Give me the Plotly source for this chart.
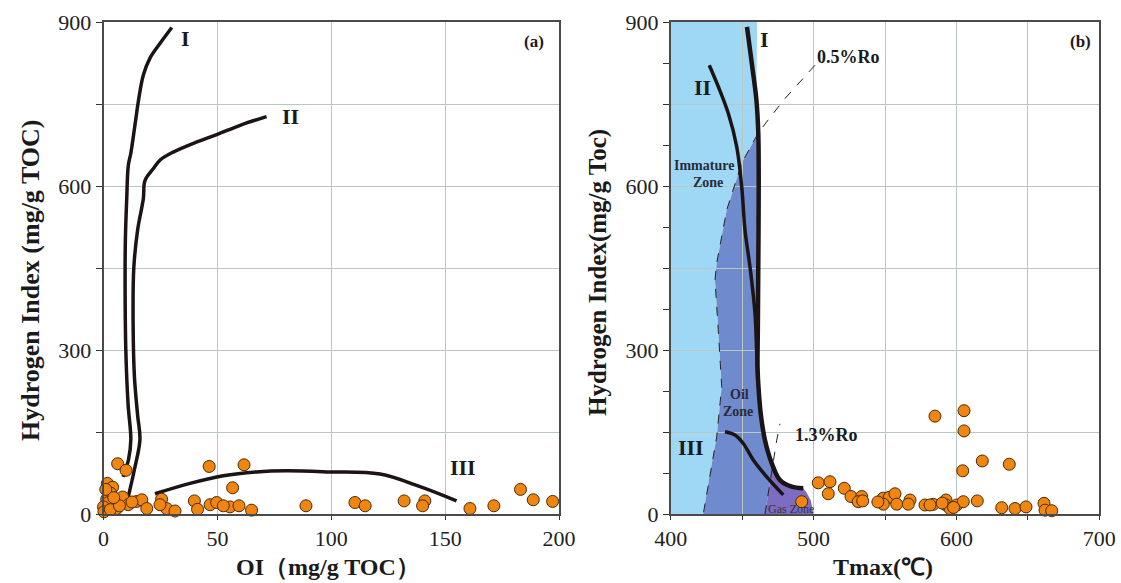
import plotly.graph_objects as go

# ---------------- Panel (a): HI vs OI ----------------
oi_pts = [6.2, 9.9, 1.7, 4.0, 3.2, 1.4, 2.1, 0.0, 0.2, 5.8, 8.4, 10.9, 14.6, 16.8, 19.0,
          25.5, 27.7, 31.4, 24.8, 39.9, 41.3, 46.8, 49.7, 46.4, 61.7, 56.7, 55.5, 59.5,
          65.0, 52.6, 88.9, 110.4, 114.9, 132.0, 141.1, 140.1, 160.9, 171.4, 183.1,
          188.7, 197.2, 3.0, 7.0, 12.5, 1.0, 4.5]
hi_a_pts = [92, 80, 56, 49, 38, 27, 21, 13, 4, 10, 31, 17, 23, 26, 10,
            27, 10, 5.5, 17, 24, 8.6, 17, 21, 87, 90, 48, 13, 15,
            7, 15, 15, 21, 15, 24, 24, 15, 10, 15, 45,
            26, 23, 8, 15, 22, 45, 30]

curveA_I_x = [30.0, 25.0, 20.4, 17.5, 15.5, 13.8, 12.0, 10.9, 10.2, 9.6, 9.5, 9.8, 10.8, 12.0, 11.0, 8.6]
curveA_I_y = [890, 862, 834, 803, 760, 711, 660, 638, 577, 500, 400, 300, 200, 136, 100, 68]
curveA_II_x = [71.6, 60.0, 49.7, 40.0, 30.6, 25.0, 21.9, 18.2, 17.5, 15.0, 13.3, 13.0, 13.6, 15.0, 16.0, 13.5, 10.9]
curveA_II_y = [727, 711, 694, 679, 662, 648, 632, 610, 577, 520, 450, 350, 250, 180, 136, 80, 32]
curveA_III_x = [22.6, 38.0, 52.6, 67.2, 80.4, 99.4, 121.4, 139.0, 155.0]
curveA_III_y = [37, 56, 70, 77, 79, 77, 73, 50, 24]

# ---------------- Panel (b): HI vs Tmax ----------------
tmax_pts = [585.0, 605.3, 605.3, 604.4, 618.1, 637.0, 503.3, 511.5, 510.3, 521.5, 526.2,
            533.7, 531.3, 534.4, 548.8, 553.0, 557.0, 548.8, 558.2, 567.5, 566.3, 578.0,
            583.8, 592.7, 592.7, 595.5, 600.2, 604.8, 614.6, 631.7, 641.0, 648.7, 661.3,
            662.0, 666.7, 581.5, 491.7, 590.0, 598.0, 545.0]
hi_b_pts = [179, 189, 152, 79, 97, 91, 57, 59, 37, 47, 32,
            32, 22.5, 24, 29, 30.5, 37, 18, 18, 25.6, 18, 16.5,
            17.7, 25.6, 16.5, 10, 16.5, 22.5, 24, 11.5, 10, 13, 19.5,
            7, 6, 16.5, 22.5, 20, 12, 22]

curveB_I_x = [453.4, 457.0, 460.0, 461.3, 461.6, 461.3, 461.0, 460.8, 461.5, 463.0, 466.0,
              470.7, 476.5, 484.7, 492.8]
curveB_I_y = [891, 820, 757, 697, 600, 452, 337, 269, 230, 184, 135,
              93, 62, 50, 47]
curveB_II_x = [427.0, 433.3, 440.3, 446.2, 449.7, 452.0, 455.5, 459.0, 460.2, 461.0]
curveB_II_y = [821, 782, 733, 672, 599, 519, 452, 367, 294, 240]
curveB_III_x = [438.0, 445.0, 450.8, 457.8, 467.2, 478.8]
curveB_III_y = [150.6, 144.5, 129, 99, 68, 35]

ro05_x = [461.3, 470.0, 480.0, 490.0, 501.0]
ro05_y = [697, 727, 760, 790, 821]
zone_x = [461.3, 449.7, 441.5, 439.2, 432.2, 431.0, 433.3, 435.7, 432.2, 427.5, 422.8]
zone_y = [697, 642, 574, 556, 459, 428, 337, 233, 141, 74, 0]
ro13_x = [466.0, 471.3, 474.2, 476.5]
ro13_y = [0, 88, 135, 165]

immature_x = [400, 400, 460.5, 460.0]
immature_y = [0, 900, 900, 757]
gas_edge_x = [495.0, 498.0, 500.0]
gas_edge_y = [40, 25, 0]

C_LIGHT = "#9fd8f4"
C_OIL = "#6f8bcd"
C_GAS = "#7d6cc2"
C_LINE = "#1c1414"
C_GRID = "#b9c8c1"
FONT = "Liberation Serif"


def path_from(xs, ys):
    pts = [f"{x},{y}" for x, y in zip(xs, ys)]
    return "M " + " L ".join(pts) + " Z"


fig = go.Figure()

light_x = immature_x + zone_x
light_y = immature_y + zone_y
oil_x = zone_x + [ro13_x[0], ro13_x[1]] + curveB_I_x[3:12][::-1]
oil_y = zone_y + [ro13_y[0], ro13_y[1]] + curveB_I_y[3:12][::-1]
gas_x = [ro13_x[0], ro13_x[1]] + curveB_I_x[11:] + gas_edge_x
gas_y = [ro13_y[0], ro13_y[1]] + curveB_I_y[11:] + gas_edge_y

shapes = [
    dict(type="path", xref="x2", yref="y2", path=path_from(light_x, light_y),
         fillcolor=C_LIGHT, line=dict(width=0), layer="below"),
    dict(type="path", xref="x2", yref="y2", path=path_from(oil_x, oil_y),
         fillcolor=C_OIL, line=dict(width=0), layer="below"),
    dict(type="path", xref="x2", yref="y2", path=path_from(gas_x, gas_y),
         fillcolor=C_GAS, line=dict(width=0), layer="below"),
]

fig.add_trace(go.Scatter(x=ro05_x[::-1] + zone_x[1:], y=ro05_y[::-1] + zone_y[1:], mode="lines",
                         line=dict(color="#222", width=1, dash="dash"), xaxis="x2", yaxis="y2",
                         hoverinfo="skip"))
fig.add_trace(go.Scatter(x=ro13_x, y=ro13_y, mode="lines",
                         line=dict(color="#222", width=1, dash="dash"), xaxis="x2", yaxis="y2",
                         hoverinfo="skip"))

for cx, cy in [(curveA_I_x, curveA_I_y), (curveA_II_x, curveA_II_y), (curveA_III_x, curveA_III_y)]:
    fig.add_trace(go.Scatter(x=cx, y=cy, mode="lines", line=dict(color=C_LINE, width=3.5, shape="spline"),
                             xaxis="x", yaxis="y", hoverinfo="skip"))
for cx, cy, w in [(curveB_I_x, curveB_I_y, 4.5), (curveB_II_x, curveB_II_y, 3.5), (curveB_III_x, curveB_III_y, 3.5)]:
    fig.add_trace(go.Scatter(x=cx, y=cy, mode="lines", line=dict(color=C_LINE, width=w, shape="spline"),
                             xaxis="x2", yaxis="y2", hoverinfo="skip"))

marker = dict(size=12, color="#f0850f", line=dict(color="#4a2a08", width=1))
fig.add_trace(go.Scatter(x=oi_pts, y=hi_a_pts, mode="markers", marker=marker, xaxis="x", yaxis="y",
                         cliponaxis=False))
fig.add_trace(go.Scatter(x=tmax_pts, y=hi_b_pts, mode="markers", marker=marker, xaxis="x2", yaxis="y2",
                         cliponaxis=False))

ydom = [1 - 514 / 583, 1 - 22 / 583]
hi_ticks = [0, 150, 300, 450, 600, 750, 900]
hi_text = ["0", "", "300", "", "600", "", "900"]
oi_ticks = [0, 50, 100, 150, 200]
t_ticks = [400, 450, 500, 550, 600, 650, 700]
t_text = ["400", "", "500", "", "600", "", "700"]

axis_common = dict(showline=True, mirror=True, linecolor="#4a4a4a", linewidth=1.5,
                   showgrid=True, gridcolor=C_GRID, gridwidth=1, zeroline=False,
                   ticks="outside", tickcolor="#333", automargin=False,
                   tickfont=dict(family=FONT, size=22, color="#222"))

fig.update_layout(
    width=1121, height=583,
    margin=dict(l=0, r=0, t=0, b=0),
    paper_bgcolor="white", plot_bgcolor="white",
    showlegend=False,
    shapes=shapes,
    xaxis=dict(domain=[103.5 / 1121, 559 / 1121], range=[0, 200], tickvals=oi_ticks, ticklen=4,
               anchor="y", **axis_common),
    yaxis=dict(domain=ydom, range=[0, 900], tickvals=hi_ticks, ticktext=hi_text, ticklen=6,
               anchor="x", **axis_common),
    xaxis2=dict(domain=[670.7 / 1121, 1099.3 / 1121], range=[400, 700], tickvals=t_ticks, ticktext=t_text,
                ticklen=4, anchor="y2", **axis_common),
    yaxis2=dict(domain=ydom, range=[0, 900], tickvals=hi_ticks, ticktext=hi_text, ticklen=6,
                anchor="x2", minor=dict(dtick=75, tick0=0, ticks="outside", ticklen=6, showgrid=False,
                                        tickcolor="#333"),
                **axis_common),
)

ann = []
def txt(x, y, s, ref, size, bold=True, color="#1a1a1a", xanchor="center"):
    ann.append(dict(x=x, y=y, xref="x" if ref == 1 else "x2", yref="y" if ref == 1 else "y2",
                    text=(f"<b>{s}</b>" if bold else s), showarrow=False, xanchor=xanchor,
                    font=dict(family=FONT, size=size, color=color)))

txt(36, 870, "I", 1, 22)
txt(82, 727, "II", 1, 22)
txt(158, 85, "III", 1, 22)
txt(189, 865, "(a)", 1, 17)
txt(466, 868, "I", 2, 22)
txt(422.5, 781, "II", 2, 22)
txt(414, 122, "III", 2, 22)
txt(687, 865, "(b)", 2, 17)
txt(524.5, 836, "0.5%Ro", 2, 18)
txt(509, 144, "1.3%Ro", 2, 18)
txt(423, 638, "Immature", 2, 14, color="#2a2a3a")
txt(426, 607, "Zone", 2, 14, color="#2a2a3a")
txt(448.5, 218, "Oil", 2, 14, color="#2a2a3a")
txt(447, 188, "Zone", 2, 14, color="#2a2a3a")
txt(484, 10, "Gas Zone", 2, 12, bold=False, color="#333")

def ptxt(px, py, s, size, angle=0, bold=False):
    ann.append(dict(x=px / 1121, y=1 - py / 583, xref="paper", yref="paper", text=(f"<b>{s}</b>" if bold else s),
                    showarrow=False, textangle=angle, xanchor="center", yanchor="middle",
                    font=dict(family=FONT, size=size, color="#1a1a1a")))

ptxt(30, 281, "Hydrogen Index (mg/g TOC)", 26, -90, True)
ptxt(598, 272, "Hydrogen Index(mg/g Toc)", 25, -90, True)
ptxt(328, 567, "OI（mg/g TOC）", 24, 0, True)
ptxt(883, 567, "Tmax(℃)", 24, 0, True)

fig.update_layout(annotations=ann)
fig.write_html("out.html")
